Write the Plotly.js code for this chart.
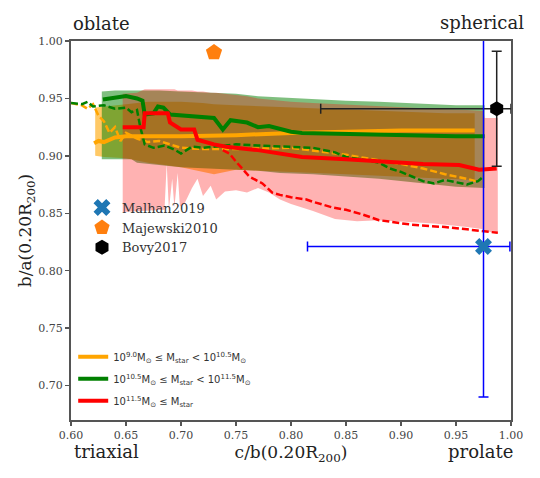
<!DOCTYPE html>
<html>
<head>
<meta charset="utf-8">
<script src="https://cdn.plot.ly/plotly-3.0.1.min.js"></script>
<style>html,body{margin:0;padding:0;background:#fff;}#plot{width:540px;height:478px;}</style>
</head>
<body>
<div id="plot"></div>
<script>
// ---------- data ----------
// Low-mass group: 10^9.0 <= Mstar < 10^10.5
var lowBandX     = [0.622, 0.63, 0.65, 0.67, 0.70, 0.72, 0.73, 0.75, 0.80, 0.85, 0.90, 0.94, 0.967];
var lowBandUpper = [0.942, 0.943, 0.945, 0.947, 0.947, 0.946, 0.945, 0.944, 0.942, 0.940, 0.938, 0.937, 0.937];
var lowBandLower = [0.900, 0.899, 0.898, 0.894, 0.890, 0.886, 0.884, 0.888, 0.886, 0.884, 0.882, 0.880, 0.879];
var lowSolidX = [0.621, 0.625, 0.63, 0.64, 0.65, 0.67, 0.70, 0.75, 0.80, 0.85, 0.90, 0.967];
var lowSolidY = [0.911, 0.913, 0.912, 0.916, 0.917, 0.917, 0.917, 0.918, 0.920, 0.921, 0.922, 0.922];
var lowDashX = [0.60, 0.61, 0.615, 0.62, 0.625, 0.63, 0.635, 0.64, 0.645, 0.65, 0.66, 0.67, 0.68, 0.69, 0.70, 0.72, 0.75, 0.80, 0.85, 0.88, 0.90, 0.92, 0.94, 0.96, 0.968];
var lowDashY = [0.946, 0.944, 0.941, 0.945, 0.935, 0.930, 0.920, 0.925, 0.913, 0.920, 0.915, 0.912, 0.913, 0.910, 0.907, 0.906, 0.906, 0.907, 0.901, 0.896, 0.893, 0.889, 0.884, 0.880, 0.878];

// Mid-mass group: 10^10.5 <= Mstar < 10^11.5
var midBandX     = [0.628, 0.64, 0.655, 0.66, 0.68, 0.70, 0.72, 0.75, 0.77, 0.79, 0.82, 0.85, 0.88, 0.90, 0.93, 0.95, 0.976];
var midBandUpper = [0.956, 0.957, 0.957, 0.957, 0.957, 0.956, 0.955, 0.954, 0.952, 0.951, 0.949, 0.948, 0.947, 0.946, 0.945, 0.944, 0.944];
var midBandLower = [0.897, 0.897, 0.897, 0.894, 0.892, 0.890, 0.889, 0.888, 0.887, 0.885, 0.884, 0.882, 0.880, 0.878, 0.875, 0.873, 0.872];
var midSolidX = [0.629, 0.64, 0.65, 0.66, 0.665, 0.667, 0.675, 0.679, 0.684, 0.69, 0.72, 0.73, 0.738, 0.745, 0.76, 0.77, 0.78, 0.80, 0.81, 0.85, 0.90, 0.95, 0.976];
var midSolidY = [0.949, 0.951, 0.952, 0.950, 0.948, 0.936, 0.937, 0.943, 0.942, 0.936, 0.934, 0.933, 0.923, 0.931, 0.929, 0.925, 0.926, 0.921, 0.920, 0.919, 0.918, 0.917, 0.917];
var midDashX = [0.60, 0.61, 0.615, 0.62, 0.63, 0.64, 0.65, 0.655, 0.66, 0.663, 0.667, 0.675, 0.685, 0.695, 0.70, 0.71, 0.72, 0.73, 0.75, 0.77, 0.80, 0.82, 0.84, 0.85, 0.87, 0.88, 0.89, 0.90, 0.91, 0.92, 0.93, 0.94, 0.95, 0.96, 0.97, 0.975];
var midDashY = [0.946, 0.945, 0.947, 0.943, 0.944, 0.941, 0.942, 0.938, 0.940, 0.925, 0.910, 0.907, 0.909, 0.905, 0.902, 0.908, 0.907, 0.908, 0.910, 0.909, 0.908, 0.907, 0.903, 0.899, 0.896, 0.894, 0.889, 0.886, 0.882, 0.878, 0.876, 0.879, 0.877, 0.875, 0.878, 0.882];

// High-mass group: 10^11.5 <= Mstar
var highBandX     = [0.647, 0.66, 0.667, 0.685, 0.687, 0.689, 0.692, 0.694, 0.697, 0.699, 0.703, 0.71, 0.715, 0.72, 0.727, 0.732, 0.74, 0.75, 0.76, 0.77, 0.78, 0.79, 0.80, 0.82, 0.84, 0.86, 0.88, 0.90, 0.93, 0.96, 0.975, 0.976, 0.988];
var highBandUpper = [0.954, 0.955, 0.958, 0.958, 0.958, 0.958, 0.958, 0.958, 0.957, 0.957, 0.957, 0.957, 0.956, 0.956, 0.955, 0.955, 0.954, 0.953, 0.952, 0.950, 0.949, 0.948, 0.947, 0.946, 0.945, 0.944, 0.943, 0.942, 0.941, 0.940, 0.939, 0.933, 0.933];
var highBandLower = [0.851, 0.852, 0.852, 0.853, 0.893, 0.853, 0.880, 0.855, 0.885, 0.856, 0.858, 0.872, 0.880, 0.865, 0.874, 0.862, 0.869, 0.870, 0.868, 0.872, 0.868, 0.862, 0.858, 0.852, 0.845, 0.843, 0.844, 0.843, 0.841, 0.838, 0.836, 0.835, 0.832];
var highSolidX = [0.647, 0.666, 0.667, 0.688, 0.69, 0.70, 0.712, 0.715, 0.73, 0.741, 0.77, 0.79, 0.81, 0.85, 0.88, 0.92, 0.953, 0.971, 0.987];
var highSolidY = [0.925, 0.925, 0.937, 0.937, 0.929, 0.923, 0.923, 0.914, 0.910, 0.908, 0.905, 0.902, 0.899, 0.897, 0.895, 0.893, 0.892, 0.888, 0.889];
var highDashX = [0.738, 0.744, 0.75, 0.762, 0.774, 0.783, 0.79, 0.80, 0.814, 0.82, 0.838, 0.85, 0.865, 0.88, 0.91, 0.94, 0.96, 0.988];
var highDashY = [0.905, 0.902, 0.895, 0.882, 0.876, 0.868, 0.866, 0.864, 0.862, 0.860, 0.855, 0.853, 0.849, 0.844, 0.840, 0.838, 0.836, 0.833];

// Observations
var obsNames = ["Malhan2019", "Majewski2010", "Bovy2017"];
var obsX = [0.975, 0.73, 0.987];
var obsY = [0.821, 0.990, 0.941];
var obsXErrMinus = [0.160, 0, 0.160];
var obsXErrPlus  = [0.024, 0, 0.013];
var obsYErrMinus = [0.131, 0, 0.050];
var obsYErrPlus  = [0.200, 0, 0.050];

var groupLabels = [
  "10<sup>9.0</sup>M<sub>⊙</sub> ≤ M<sub>star</sub> &lt; 10<sup>10.5</sup>M<sub>⊙</sub>",
  "10<sup>10.5</sup>M<sub>⊙</sub> ≤ M<sub>star</sub> &lt; 10<sup>11.5</sup>M<sub>⊙</sub>",
  "10<sup>11.5</sup>M<sub>⊙</sub> ≤ M<sub>star</sub>"
];
var xTicks = [0.60, 0.65, 0.70, 0.75, 0.80, 0.85, 0.90, 0.95, 1.00];
var yTicks = [0.70, 0.75, 0.80, 0.85, 0.90, 0.95, 1.00];

// ---------- build traces ----------
var SERIF = "DejaVu Serif, serif";
var SANS = "DejaVu Sans, sans-serif";

function band(xs, up, lo, fill) {
  return {
    x: xs.concat(xs.slice().reverse()),
    y: up.concat(lo.slice().reverse()),
    type: "scatter", mode: "lines", fill: "toself",
    fillcolor: fill, line: {width: 0, color: fill},
    showlegend: false, hoverinfo: "skip"
  };
}
function dashed(xs, ys, color) {
  return {x: xs, y: ys, type: "scatter", mode: "lines",
    line: {color: color, width: 2.5, dash: "7px,3px"}, showlegend: false};
}
function solid(xs, ys, color, name, grp) {
  return {x: xs, y: ys, type: "scatter", mode: "lines", name: name,
    line: {color: color, width: 4}, legend: "legend2", legendgroup: grp};
}
function obs(i, symbol, color, size, errColor) {
  var t = {x: [obsX[i]], y: [obsY[i]], type: "scatter", mode: "markers", name: obsNames[i],
    marker: {symbol: symbol, color: color, size: size, line: {width: 0}}, legend: "legend"};
  if (errColor) {
    t.error_x = {type: "data", symmetric: false, array: [obsXErrPlus[i]], arrayminus: [obsXErrMinus[i]],
      color: errColor, thickness: 1.5, width: 5};
    t.error_y = {type: "data", symmetric: false, array: [obsYErrPlus[i]], arrayminus: [obsYErrMinus[i]],
      color: errColor, thickness: 1.5, width: 5};
  }
  return t;
}

var data = [
  band(lowBandX, lowBandUpper, lowBandLower, "rgba(255,165,0,0.6)"),
  band(midBandX, midBandUpper, midBandLower, "rgba(0,128,0,0.5)"),
  band(highBandX, highBandUpper, highBandLower, "rgba(255,0,0,0.3)"),
  dashed(lowDashX, lowDashY, "#FFA500"),
  dashed(midDashX, midDashY, "#008000"),
  dashed(highDashX, highDashY, "#FF0000"),
  solid(lowSolidX, lowSolidY, "#FFA500", groupLabels[0], "g1"),
  solid(midSolidX, midSolidY, "#008000", groupLabels[1], "g2"),
  solid(highSolidX, highSolidY, "#FF0000", groupLabels[2], "g3"),
  obs(1, "pentagon", "#ff7f0e", 17, null),
  obs(2, "hexagon", "#000000", 15, "#222222"),
  obs(0, "x", "#1f77b4", 15, "#0000ff")
];
// legend order: Malhan, Majewski, Bovy
data[11].legendrank = 1; data[9].legendrank = 2; data[10].legendrank = 3;

var axisCommon = {
  showgrid: false, zeroline: false, showline: true, mirror: true,
  linecolor: "#555", linewidth: 2, ticks: "outside", ticklen: 4, tickwidth: 1.5, tickcolor: "#555",
  tickfont: {family: SERIF, size: 11, color: "#444"}, tickformat: ".2f"
};

var layout = {
  width: 540, height: 478,
  margin: {l: 71, r: 29, t: 41, b: 58, pad: 0},
  paper_bgcolor: "#fff", plot_bgcolor: "#fff",
  xaxis: Object.assign({}, axisCommon, {
    range: [0.6, 1.0], tickvals: xTicks,
    title: {text: "c/b(0.20R<sub>200</sub>)", font: {family: SERIF, size: 17, color: "#222"}, standoff: 3}
  }),
  yaxis: Object.assign({}, axisCommon, {
    range: [0.67, 1.0], tickvals: yTicks,
    title: {text: "b/a(0.20R<sub>200</sub>)", font: {family: SERIF, size: 17, color: "#222"}, standoff: 2}
  }),
  showlegend: true,
  legend: {x: 0.025, y: 0.6, xanchor: "left", yanchor: "top", bgcolor: "rgba(0,0,0,0)",
    font: {family: SERIF, size: 13, color: "#333"}, itemsizing: "trace", tracegroupgap: 0},
  legend2: {x: 0.005, y: 0.205, xanchor: "left", yanchor: "top", bgcolor: "rgba(0,0,0,0)",
    font: {family: SANS, size: 10, color: "#333"}, tracegroupgap: 3},
  annotations: [
    {text: "oblate", xref: "paper", yref: "paper", x: 0.07, y: 1.047, showarrow: false,
      xanchor: "center", yanchor: "middle", font: {family: SERIF, size: 18, color: "#222"}},
    {text: "spherical", xref: "paper", yref: "paper", x: 0.934, y: 1.05, showarrow: false,
      xanchor: "center", yanchor: "middle", font: {family: SERIF, size: 18, color: "#222"}},
    {text: "triaxial", xref: "paper", yref: "paper", x: 0.08, y: -0.082, showarrow: false,
      xanchor: "center", yanchor: "middle", font: {family: SERIF, size: 18, color: "#222"}},
    {text: "prolate", xref: "paper", yref: "paper", x: 0.93, y: -0.082, showarrow: false,
      xanchor: "center", yanchor: "middle", font: {family: SERIF, size: 18, color: "#222"}}
  ]
};

Plotly.newPlot("plot", data, layout, {displayModeBar: false, staticPlot: true});
</script>
</body>
</html>
